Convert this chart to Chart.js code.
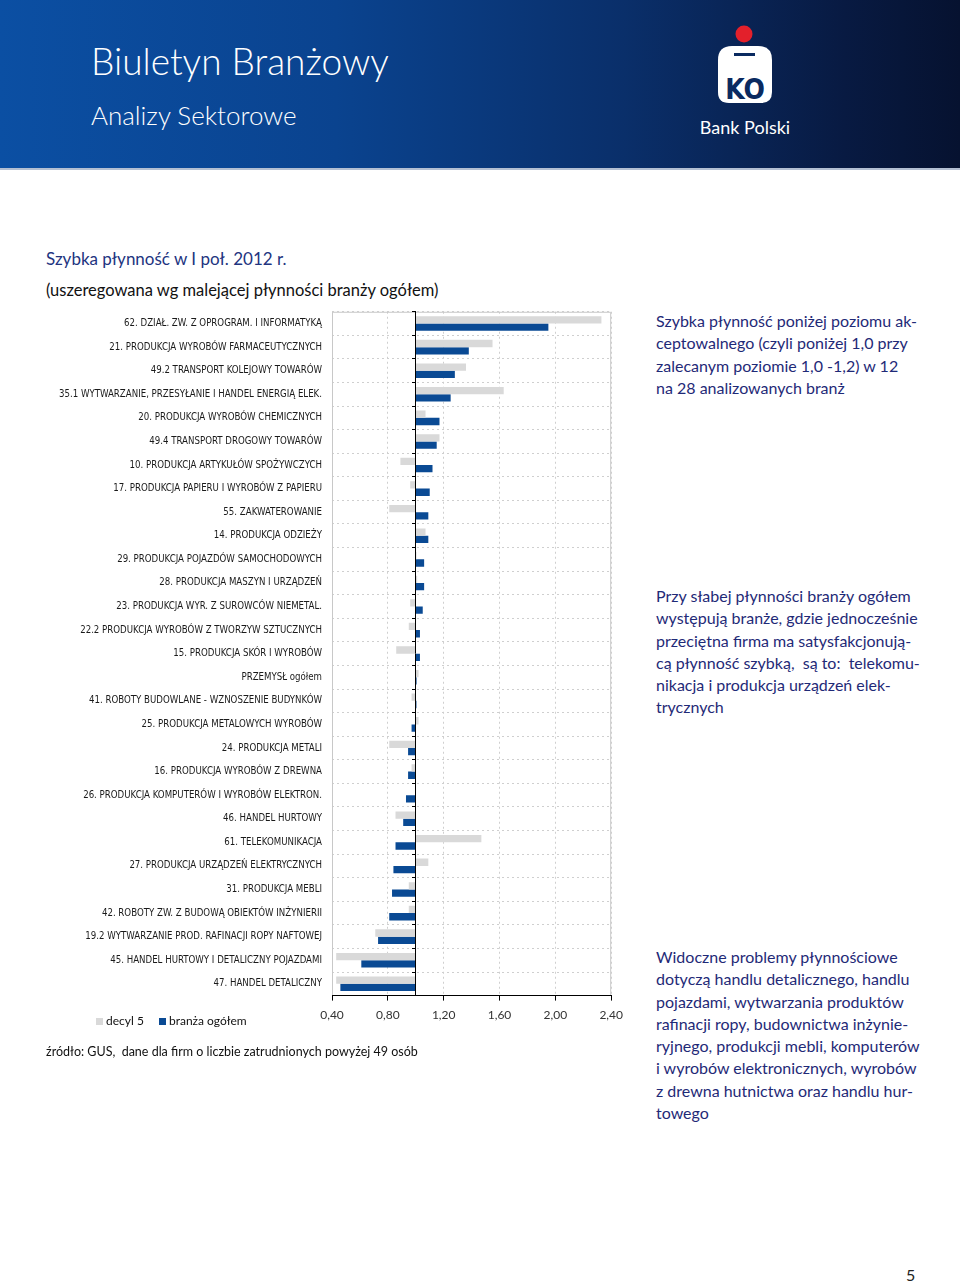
<!DOCTYPE html>
<html lang="pl">
<head>
<meta charset="utf-8">
<title>Szybka płynność w I poł. 2012 r.</title>
<script src="https://cdn.jsdelivr.net/npm/chart.js@4.4.1/dist/chart.umd.min.js"></script>
<style>
    body {
        margin: 0;
        width: 960px;
        height: 1283px;
        position: relative;
        overflow: hidden;
        background: #fff;
        font-family: Lato, 'Noto Sans', sans-serif;
    }
    .naglowek {
        position: absolute;
        left: 0; top: 0;
        width: 960px; height: 168px;
        background: linear-gradient(90deg, #0b4fa3 0%, #0a438f 35%, #0a2f6a 65%, #081a42 88%, #061230 100%);
        border-bottom: 2px solid #b3bfd2;
    }
    .naglowek .tytul {
        position: absolute; left: 91px; top: 42px;
        font-size: 37px; line-height: 37px; font-weight: 300; color: #fff;
    }
    .naglowek .podtytul {
        position: absolute; left: 91px; top: 102px;
        font-size: 26px; line-height: 26px; font-weight: 300; color: #fff;
    }
    .tekst { position: absolute; white-space: nowrap; }
    .tytul-wykresu { left: 46px; top: 250px; font-size: 17px; line-height: 17px; color: #22347f; }
    .opis-wykresu { left: 46px; top: 282px; font-size: 16.5px; line-height: 17px; color: #111; }
    .komentarz {
        position: absolute; left: 656px;
        font-size: 16px; line-height: 22.3px; color: #1f2a77; white-space: nowrap;
    }
    #kontener {
        position: absolute; left: 0; top: 296px;
        width: 630px; height: 738px;
    }
    .legenda {
        position: absolute; left: 96px; top: 1013px;
        font-size: 12px; line-height: 16px; color: #111;
    }
    .legenda span.kw {
        display: inline-block; width: 7px; height: 7px; margin-right: 3px; vertical-align: 0px;
    }
    .zrodlo { left: 46px; top: 1044px; font-size: 12.5px; line-height: 16px; color: #111; }
    .strona { left: 906px; top: 1266px; font-size: 16px; line-height: 18px; color: #222; }
</style>
</head>
<body>

<div class="naglowek">
    <div class="tytul">Biuletyn Branżowy</div>
    <div class="podtytul">Analizy Sektorowe</div>
    <svg width="960" height="168" style="position:absolute;left:0;top:0">
        <circle cx="744" cy="34" r="8.5" fill="#e3202b"/>
        <path d="M718,60 Q718,46 732,46 L758,46 Q772,46 772,60 L772,92 Q772,103 761,103 L729,103 Q718,103 718,92 Z" fill="#fff"/>
        <rect x="734" y="53" width="21" height="3" fill="#0a2a60"/>
        <text x="745" y="99" text-anchor="middle" font-family="'DejaVu Sans Condensed', sans-serif" font-weight="bold" font-size="28" fill="#0a2a60">KO</text>
        <text x="745" y="134" text-anchor="middle" font-family="Lato, sans-serif" font-size="18" fill="#fff">Bank Polski</text>
    </svg>
</div>

<div class="tekst tytul-wykresu">Szybka płynność w I poł. 2012 r.</div>
<div class="tekst opis-wykresu">(uszeregowana wg malejącej płynności branży ogółem)</div>

<div id="kontener"><canvas id="wykres"></canvas></div>

<div class="legenda">
    <span class="kw" style="background:#d9d9d9"></span>decyl 5
    <span class="kw" style="background:#0a4a94;margin-left:12px"></span>branża ogółem
</div>

<div class="tekst zrodlo">źródło: GUS,&nbsp; dane dla firm o liczbie zatrudnionych powyżej 49 osób</div>

<div class="komentarz" style="top:310px">
    Szybka płynność poniżej poziomu ak-<br>
    ceptowalnego (czyli poniżej 1,0 przy<br>
    zalecanym poziomie 1,0 -1,2) w 12<br>
    na 28 analizowanych branż
</div>

<div class="komentarz" style="top:585px">
    Przy słabej płynności branży ogółem<br>
    występują branże, gdzie jednocześnie<br>
    przeciętna firma ma satysfakcjonują-<br>
    cą płynność szybką,&nbsp; są to:&nbsp; telekomu-<br>
    nikacja i produkcja urządzeń elek-<br>
    trycznych
</div>

<div class="komentarz" style="top:946px">
    Widoczne problemy płynnościowe<br>
    dotyczą handlu detalicznego, handlu<br>
    pojazdami, wytwarzania produktów<br>
    rafinacji ropy, budownictwa inżynie-<br>
    ryjnego, produkcji mebli, komputerów<br>
    i wyrobów elektronicznych, wyrobów<br>
    z drewna hutnictwa oraz handlu hur-<br>
    towego
</div>

<div class="tekst strona">5</div>

<script>
// Dane wykresu - szybka płynność w I poł. 2012 r.
const kategorie = [
    '62. DZIAŁ. ZW. Z OPROGRAM. I INFORMATYKĄ',
    '21. PRODUKCJA WYROBÓW FARMACEUTYCZNYCH',
    '49.2 TRANSPORT KOLEJOWY TOWARÓW',
    '35.1 WYTWARZANIE, PRZESYŁANIE I HANDEL ENERGIĄ ELEK.',
    '20. PRODUKCJA WYROBÓW CHEMICZNYCH',
    '49.4 TRANSPORT DROGOWY TOWARÓW',
    '10. PRODUKCJA ARTYKUŁÓW SPOŻYWCZYCH',
    '17. PRODUKCJA PAPIERU I WYROBÓW Z PAPIERU',
    '55. ZAKWATEROWANIE',
    '14. PRODUKCJA ODZIEŻY',
    '29. PRODUKCJA POJAZDÓW SAMOCHODOWYCH',
    '28. PRODUKCJA MASZYN I URZĄDZEŃ',
    '23. PRODUKCJA WYR. Z SUROWCÓW NIEMETAL.',
    '22.2 PRODUKCJA WYROBÓW Z TWORZYW SZTUCZNYCH',
    '15. PRODUKCJA SKÓR I WYROBÓW',
    'PRZEMYSŁ ogółem',
    '41. ROBOTY BUDOWLANE - WZNOSZENIE BUDYNKÓW',
    '25. PRODUKCJA METALOWYCH WYROBÓW',
    '24. PRODUKCJA METALI',
    '16. PRODUKCJA WYROBÓW Z DREWNA',
    '26. PRODUKCJA KOMPUTERÓW I WYROBÓW ELEKTRON.',
    '46. HANDEL HURTOWY',
    '61. TELEKOMUNIKACJA',
    '27. PRODUKCJA URZĄDZEŃ ELEKTRYCZNYCH',
    '31. PRODUKCJA MEBLI',
    '42. ROBOTY ZW. Z BUDOWĄ OBIEKTÓW INŻYNIERII',
    '19.2 WYTWARZANIE PROD. RAFINACJI ROPY NAFTOWEJ',
    '45. HANDEL HURTOWY I DETALICZNY POJAZDAMI',
    '47. HANDEL DETALICZNY'
];

const decyl5 = [2.33, 1.55, 1.36, 1.63, 1.07, 1.17, 0.89, 0.96, 0.81, 1.07,
                1.005, 1.01, 0.96, 0.95, 0.86, 1.02, 0.97, 1.02, 0.81, 0.97,
                1.0, 0.855, 1.47, 1.09, 0.95, 0.95, 0.71, 0.43, 0.43];

const branzaOgolem = [1.95, 1.38, 1.28, 1.25, 1.17, 1.15, 1.12, 1.10, 1.09, 1.09,
                      1.06, 1.06, 1.05, 1.03, 1.03, 1.006, 1.005, 0.97, 0.945, 0.945,
                      0.93, 0.91, 0.855, 0.84, 0.83, 0.81, 0.73, 0.61, 0.46];

// Oś X: od 0,40 do 2,40 co 0,40; słupki wychodzą od poziomu 1,0
const osXMin = 0.4;
const osXMax = 2.4;
const osXKrok = 0.4;
const poziomBazowy = 1.0;

const KOLOR_DECYL = '#d9d9d9';
const KOLOR_BRANZA = '#0a4a94';
const KOLOR_SIATKI = '#cfcfcf';

// Ramka obszaru wykresu (lewa, górna, prawa krawędź)
const ramkaPlugin = {
    id: 'ramka',
    beforeDatasetsDraw(chart) {
        const a = chart.chartArea;
        const c = chart.ctx;
        c.save();
        c.strokeStyle = '#c8c8c8';
        c.lineWidth = 1;
        c.beginPath();
        c.moveTo(a.left + 0.5, a.bottom);
        c.lineTo(a.left + 0.5, a.top + 0.5);
        c.lineTo(a.right - 0.5, a.top + 0.5);
        c.lineTo(a.right - 0.5, a.bottom);
        c.stroke();
        c.restore();
    }
};

document.addEventListener('DOMContentLoaded', function() {
    const ctx = document.getElementById('wykres').getContext('2d');
    new Chart(ctx, {
        type: 'bar',
        data: {
            labels: kategorie,
            datasets: [
                {
                    label: 'decyl 5',
                    data: decyl5,
                    base: poziomBazowy,
                    backgroundColor: KOLOR_DECYL,
                    borderWidth: 0,
                    categoryPercentage: 0.62,
                    barPercentage: 1.0
                },
                {
                    label: 'branża ogółem',
                    data: branzaOgolem,
                    base: poziomBazowy,
                    backgroundColor: KOLOR_BRANZA,
                    borderWidth: 0,
                    categoryPercentage: 0.62,
                    barPercentage: 1.0
                }
            ]
        },
        options: {
            indexAxis: 'y',
            responsive: true,
            maintainAspectRatio: false,
            animation: false,
            layout: {
                padding: { left: 0, right: 17, top: 4, bottom: 5 }
            },
            plugins: {
                legend: { display: false },
                tooltip: { enabled: false }
            },
            scales: {
                x: {
                    type: 'linear',
                    min: osXMin,
                    max: osXMax,
                    ticks: {
                        stepSize: osXKrok,
                        padding: 7,
                        color: '#333',
                        font: { family: 'Lato', size: 12 },
                        callback: function(v) {
                            return Number(v).toFixed(2).replace('.', ',');
                        }
                    },
                    grid: {
                        color: KOLOR_SIATKI,
                        tickColor: '#000',
                        tickLength: 5
                    },
                    border: { color: '#000', width: 1, dash: [2, 3], z: 1 }
                },
                y: {
                    type: 'category',
                    position: 'left',
                    afterFit: function(scale) {
                        scale.width = 332;
                    },
                    ticks: {
                        autoSkip: false,
                        padding: 10,
                        color: '#1a1a1a',
                        font: { family: "'Liberation Sans Narrow', 'DejaVu Sans Condensed', sans-serif", size: 9.6 }
                    },
                    grid: {
                        offset: true,
                        color: KOLOR_SIATKI,
                        drawTicks: false
                    },
                    border: { display: false, dash: [2, 3] }
                },
                y2: {
                    type: 'category',
                    axis: 'y',
                    position: { x: poziomBazowy },
                    offset: true,
                    ticks: { display: false },
                    grid: {
                        offset: true,
                        drawOnChartArea: false,
                        drawTicks: true,
                        tickLength: 3,
                        color: '#000',
                        tickColor: '#000',
                        z: 1
                    },
                    border: { color: '#000', width: 1, z: 1 }
                }
            }
        },
        plugins: [ramkaPlugin]
    });
});
</script>
</body>
</html>
